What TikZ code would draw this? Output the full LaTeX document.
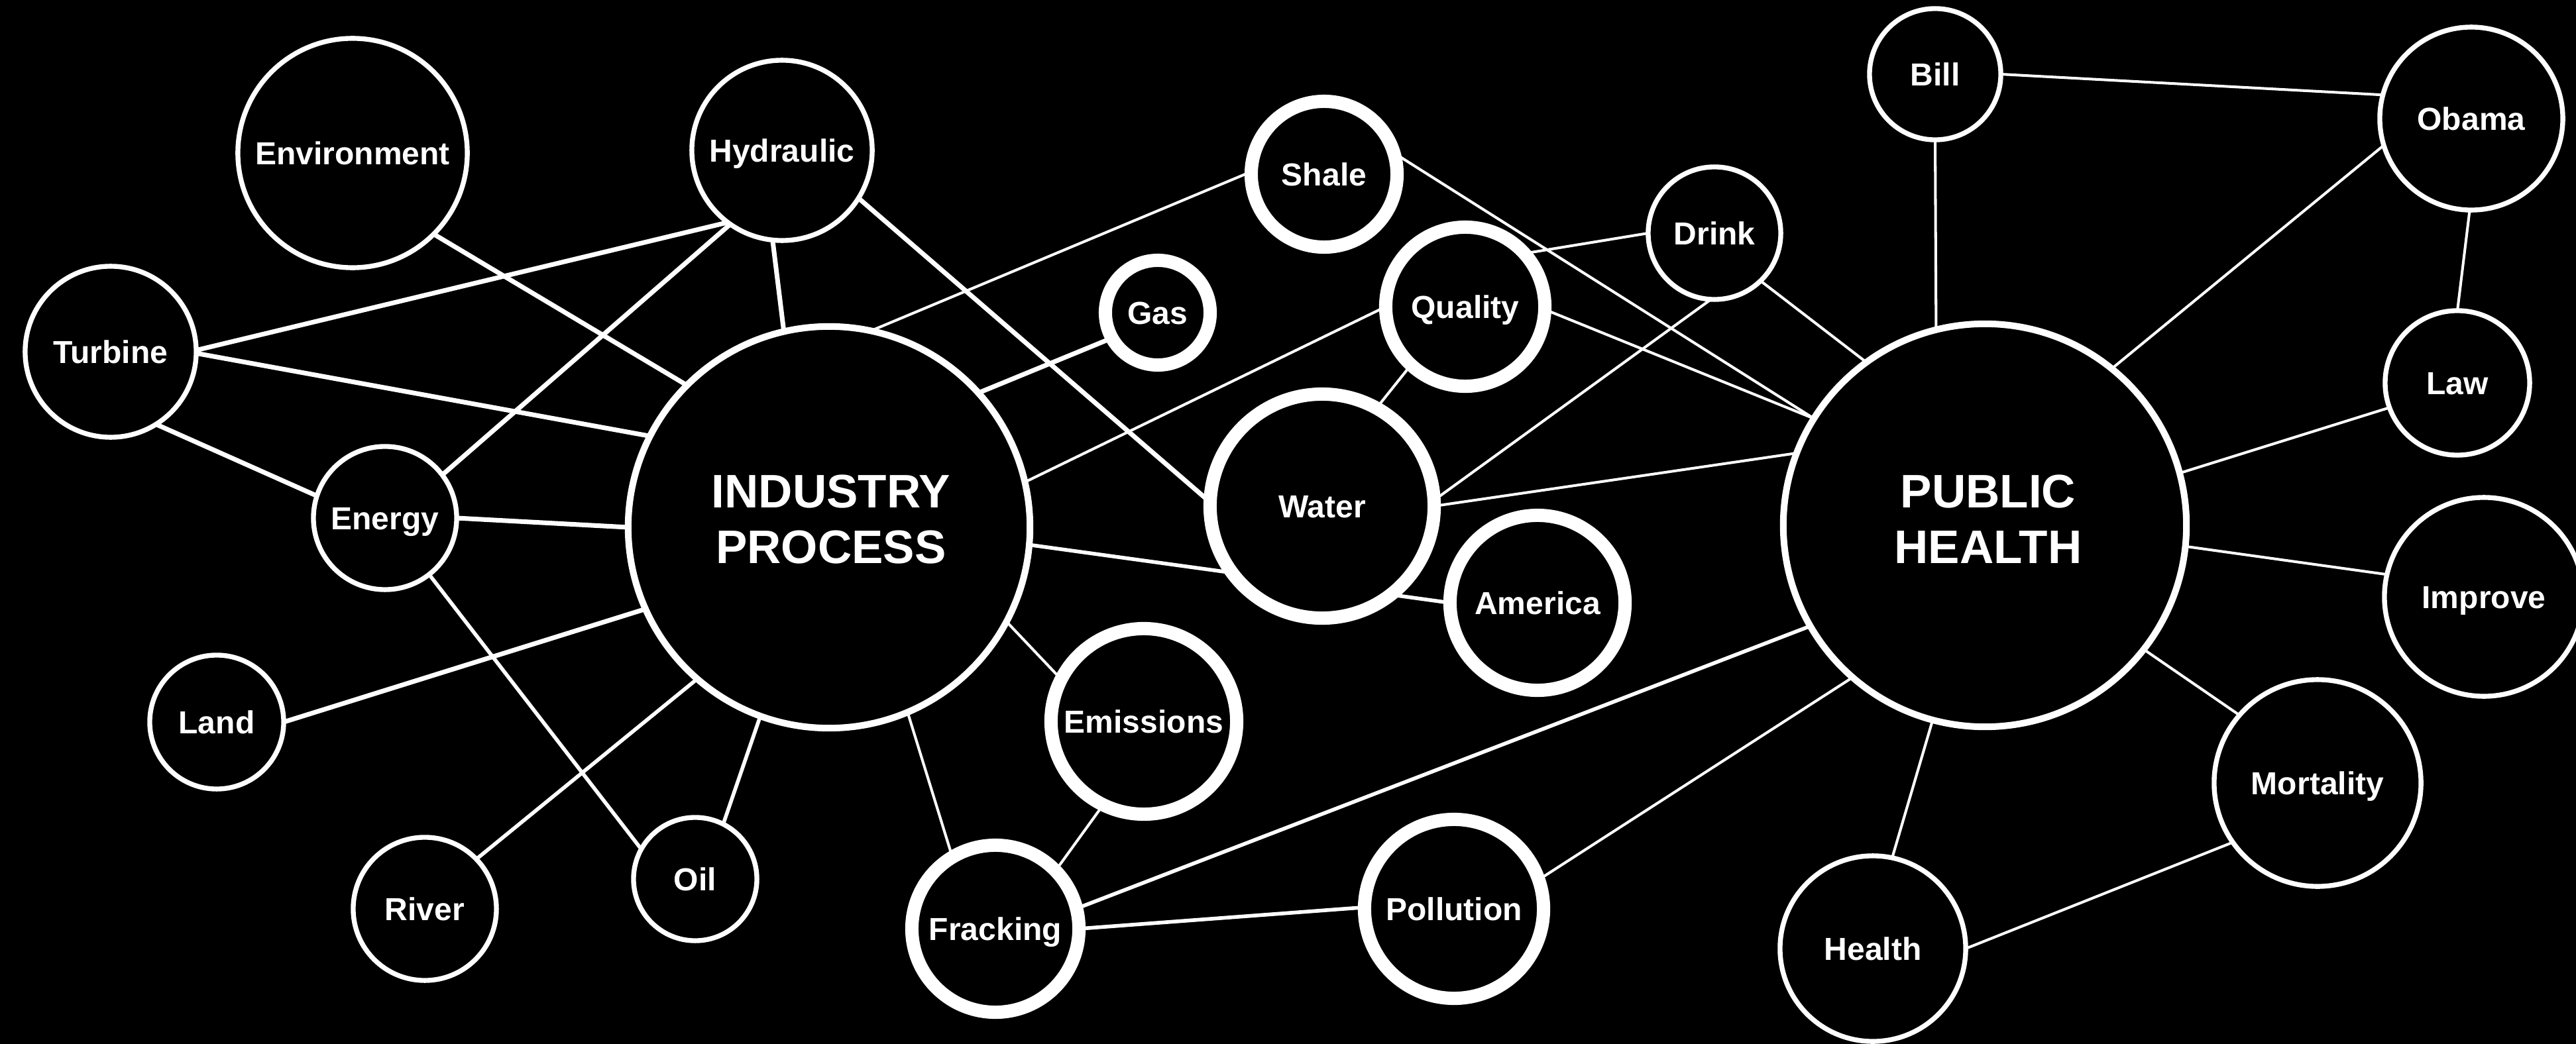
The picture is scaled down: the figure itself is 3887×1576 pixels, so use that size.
\documentclass[tikz,border=0pt]{standalone}
\usepackage{fontspec}
\setmainfont{Liberation Sans}
\usetikzlibrary{backgrounds}
\begin{document}
\begin{tikzpicture}[x=0.01cm, y=-0.01cm,
  base/.style={circle, draw=white, fill=black, inner sep=0pt, outer sep=0pt, text=white,
     font=\bfseries\fontsize{13.66pt}{16pt}\selectfont, text height=9.8pt, text depth=0pt},
  tn/.style={base, line width=2.1pt, minimum size=#1},
  tk/.style={base, line width=5.7pt, minimum size=#1},
  bg/.style={base, line width=2.85pt, minimum size=#1},
  bigtxt/.style={text=white, align=center, inner sep=0pt,
     font=\bfseries\fontsize{20.2pt}{23.9pt}\selectfont},
  ethick/.style={draw=white, line width=2pt},
  emed/.style={draw=white, line width=1.6pt},
  ethin/.style={draw=white, line width=1.15pt}]
\useasboundingbox (0,0) rectangle (3887,1576);

% nodes
\node[tn=3.46cm] (env) at (532,231) {Environment};
\node[tn=2.72cm] (hyd) at (1180,227) {Hydraulic};
\node[tn=2.58cm] (turb) at (167,531) {Turbine};
\node[tn=2.16cm] (energy) at (581,782) {Energy};
\node[tn=2.02cm] (land) at (327,1090) {Land};
\node[tn=2.16cm] (river) at (641,1372) {River};
\node[tn=1.86cm] (oil) at (1049,1327) {Oil};
\node[bg=6.06cm] (ind) at (1251,796) {};
\node[bigtxt] (indt) at (1254,784) {INDUSTRY\\PROCESS};
\node[tk=2.20cm] (shale) at (1998,263) {Shale};
\node[tk=1.58cm] (gas) at (1747,472) {Gas};
\node[tk=2.40cm] (qual) at (2211,463) {Quality};
\node[tk=3.38cm] (water) at (1995,764) {Water};
\node[tk=2.64cm] (amer) at (2320,910) {America};
\node[tk=2.80cm] (emis) at (1726,1089) {Emissions};
\node[tk=2.52cm] (frack) at (1502,1402) {Fracking};
\node[tk=2.70cm] (poll) at (2194,1372) {Pollution};
\node[tn=2.00cm] (drink) at (2587,352) {Drink};
\node[tn=1.98cm] (bill) at (2920,112) {Bill};
\node[tn=2.76cm] (obama) at (3729,179) {Obama};
\node[tn=2.18cm] (law) at (3708,578) {Law};
\node[tn=3.00cm] (impr) at (3748,901) {Improve};
\node[tn=3.12cm] (mort) at (3497,1182) {Mortality};
\node[tn=2.80cm] (health) at (2826,1432) {Health};
\node[bg=6.08cm] (ph) at (2995,793) {};
\node[bigtxt] (pht) at (3000,784) {PUBLIC\\HEALTH};

\begin{scope}[on background layer]
\fill[black] (0,0) rectangle (3887,1576);
% left side
\draw[ethick] (env.-45) -- (ind.135);
\draw[ethick] (hyd.-127) -- (turb.1);
\draw[ethick] (hyd.-125) -- (energy.37);
\draw[ethick] (hyd.-96) -- (ind.103);
\draw[ethick] (hyd.-32) -- (water.178);
\draw[ethick] (turb.-1) -- (ind.153);
\draw[ethick] (turb.-58) -- (energy.162);
\draw[ethick] (energy.0) -- (ind.180);
\draw[emed] (energy.-52) -- (oil.151);
\draw[ethick] (land.0) -- (ind.204);
\draw[emed] (river.44) -- (ind.-131);
\draw[emed] (oil.63) -- (ind.-110);
\draw[ethick] (ind.42) -- (gas.-151);
% middle
\draw[ethin] (ind.78) -- (shale.178);
\draw[ethin] (ind.13) -- (qual.180);
\draw[emed] (ind.-5) -- (amer.180);
\draw[ethin] (ind.-28) -- (emis.153);
\draw[ethin] (ind.-67) -- (frack.121);
\draw[ethin] (emis.-116) -- (frack.44);
\draw[emed] (frack.0) -- (poll.179);
\draw[emed] (frack.14) -- (ph.-150);
\draw[ethin] (poll.19) -- (ph.-131);
\draw[ethin] (qual.-133) -- (water.61);
\draw[ethin] (qual.42) -- (drink.180);
\draw[ethin] (qual.-2) -- (ph.148);
\draw[ethin] (shale.17) -- (ph.148);
\draw[ethin] (water.3) -- (drink.-93);
\draw[ethin] (water.0) -- (ph.159.5);
\draw[ethin] (drink.-46) -- (ph.126);
% right side
\draw[ethin] (bill.-90) -- (ph.104);
\draw[ethin] (bill.0) -- (obama.165);
\draw[ethin] (obama.197) -- (ph.51);
\draw[ethin] (obama.-91) -- (law.90);
\draw[ethin] (law.200) -- (ph.15);
\draw[ethin] (impr.167) -- (ph.-6);
\draw[ethin] (mort.139) -- (ph.-38.5);
\draw[ethin] (health.78.5) -- (ph.-105);
\draw[ethin] (health.0) -- (mort.215);
\end{scope}
\end{tikzpicture}
\end{document}
